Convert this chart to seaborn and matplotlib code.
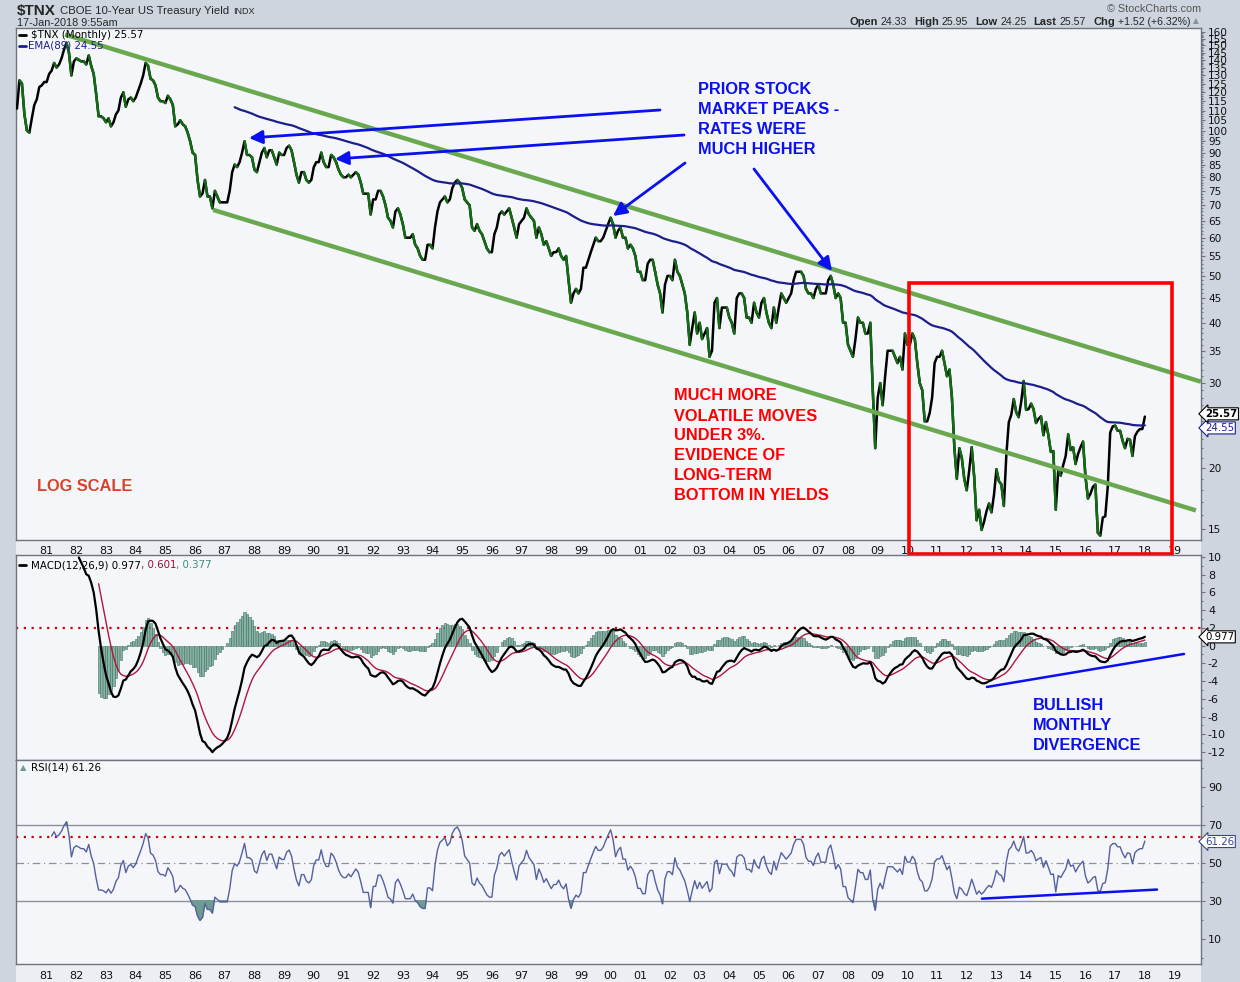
import numpy as np
import pandas as pd
import matplotlib
matplotlib.use("Agg")
import matplotlib.pyplot as plt
import seaborn as sns
from matplotlib.collections import LineCollection
from matplotlib.patches import Rectangle
from matplotlib.ticker import FixedLocator, NullFormatter

# ---------------- data (monthly closes of $TNX) ----------------
first_year = 1980
tnx_1980s = [111, 127, 125, 108, 100, 99, 106, 113, 116, 123, 124, 126,
             126, 131, 133, 138, 135, 137, 141, 147, 152, 145, 130, 139,
             141, 140, 139, 139, 137, 143, 136, 131, 119, 107, 107, 106,
             104, 106, 102, 104, 108, 110, 117, 120, 112, 116, 117, 115,
             117, 121, 125, 130, 138, 136, 128, 127, 124, 117, 115, 115,
             114, 118, 116, 113, 102, 103, 105, 103, 102, 99, 95, 90,
             89, 79, 73, 74, 79, 73, 73, 69, 75, 73, 71, 71,
             71, 71, 75, 82, 85, 84, 86, 90, 95, 89, 89, 88,
             83, 82, 86, 90, 92, 88, 91, 91, 88, 85, 90, 89,
             89, 92, 93, 91, 86, 81, 78, 82, 82, 79, 78, 79]
tnx_1990s = [84, 86, 86, 90, 86, 84, 84, 89, 88, 86, 83, 81,
             80, 80, 81, 80, 81, 82, 81, 78, 74, 74, 74, 67,
             72, 72, 75, 75, 73, 70, 66, 65, 63, 68, 69, 67,
             64, 60, 60, 60, 61, 58, 57, 55, 54, 54, 58, 58,
             57, 63, 68, 71, 72, 73, 71, 72, 76, 78, 79, 78,
             76, 72, 71, 70, 63, 62, 64, 62, 61, 59, 57, 56,
             56, 61, 63, 67, 68, 67, 68, 69, 66, 63, 60, 64,
             65, 66, 69, 67, 66, 65, 60, 63, 61, 58, 59, 57,
             55, 56, 56, 57, 55, 54, 55, 49, 44, 46, 47, 46,
             47, 52, 52, 54, 56, 58, 60, 59, 59, 60, 62, 64]
tnx_2000s = [66, 64, 60, 62, 63, 60, 60, 57, 58, 57, 55, 51,
             51, 49, 49, 53, 54, 54, 51, 48, 46, 42, 48, 50,
             50, 49, 54, 51, 50, 48, 46, 42, 36, 39, 42, 38,
             40, 37, 38, 39, 34, 35, 44, 45, 39, 43, 43, 43,
             41, 40, 38, 45, 46, 46, 45, 41, 41, 40, 44, 42,
             41, 44, 45, 42, 40, 39, 43, 40, 43, 46, 45, 44,
             45, 46, 49, 51, 51, 51, 50, 47, 46, 46, 45, 47,
             48, 46, 46, 46, 49, 50, 48, 45, 46, 45, 40, 40,
             36, 35, 34, 37, 41, 40, 40, 38, 38, 40, 29, 22,
             28, 30, 27, 31, 35, 35, 35, 34, 33, 34, 32, 38]
tnx_2010s = [36, 36, 38, 37, 33, 30, 29, 25, 25, 26, 28, 33,
             34, 34, 35, 33, 31, 32, 28, 22, 19, 22, 21, 19,
             18.0, 19.8, 22.1, 19.2, 15.6, 16.4, 14.9, 15.5, 16.3, 16.9, 16.2, 17.6,
             19.9, 18.8, 18.5, 16.7, 21.3, 24.9, 25.8, 27.8, 26.1, 25.5, 27.4, 30.3,
             26.4, 26.5, 27.2, 26.5, 24.8, 25.3, 25.6, 23.4, 24.9, 23.4, 21.6, 21.7,
             16.4, 19.9, 19.3, 20.3, 21.2, 23.5, 21.8, 22.1, 20.4, 21.4, 22.1, 22.7,
             19.2, 17.3, 17.7, 18.3, 18.5, 14.7, 14.5, 15.8, 15.9, 18.3, 23.7, 24.4,
             24.5, 23.9, 23.9, 22.8, 22.0, 23.0, 22.9, 21.2, 23.3, 23.8, 24.1, 24.1,
             25.57]

year_ticks = list(range(1981, 2020))
year_labels = ["%02d" % (y % 100) for y in year_ticks]
price_ticks = [15, 20] + list(range(30, 161, 5))
macd_ticks = list(range(-12, 11, 2))
rsi_ticks = [10, 30, 50, 70, 90]

header_title = "$TNX"
header_name = "CBOE 10-Year US Treasury Yield"
header_exch = "INDX"
header_date = "17-Jan-2018 9:55am"
quote_parts = [("Open", "24.33"), ("High", "25.95"), ("Low", "24.25"),
               ("Last", "25.57"), ("Chg", "+1.52 (+6.32%)")]
legend_price = "$TNX (Monthly) 25.57"
legend_ema = "EMA(89) 24.55"
legend_macd = ["MACD(12,26,9) 0.977", ", 0.601", ", 0.377"]
legend_rsi = "RSI(14) 61.26"
last_price, last_ema, last_macd, last_rsi = 25.57, 24.55, 0.977, 61.26

# ---------------- indicators ----------------
price = np.array(tnx_1980s + tnx_1990s + tnx_2000s + tnx_2010s, dtype=float)
t = first_year + np.arange(len(price)) / 12.0


def ema(x, n):
    x = np.asarray(x, float)
    out = np.full(len(x), np.nan)
    valid = np.where(~np.isnan(x))[0]
    s = valid[0]
    if len(valid) < n:
        return out
    out[s + n - 1] = np.mean(x[s:s + n])
    k = 2.0 / (n + 1)
    for i in range(s + n, len(x)):
        out[i] = x[i] * k + out[i - 1] * (1 - k)
    return out


ema89 = ema(price, 89)
macd = ema(price, 12) - ema(price, 26)
signal = ema(macd, 9)
hist = macd - signal

d = np.diff(price)
gain = np.clip(d, 0, None)
loss = np.clip(-d, 0, None)
rsi = np.full(len(price), np.nan)
ag, al = gain[:14].mean(), loss[:14].mean()
rsi[14] = 100 - 100 / (1 + ag / al)
for i in range(15, len(price)):
    ag = (ag * 13 + gain[i - 1]) / 14
    al = (al * 13 + loss[i - 1]) / 14
    rsi[i] = 100 - 100 / (1 + ag / al) if al > 0 else 100

df = pd.DataFrame({"t": t, "price": price, "ema": ema89, "macd": macd,
                   "signal": signal, "hist": hist, "rsi": rsi})

# ---------------- style ----------------
sns.set_theme(style="white")
plt.rcParams["font.family"] = ["DejaVu Sans"]
plt.rcParams["axes.unicode_minus"] = False
ARIAL = ["Liberation Sans", "DejaVu Sans"]
NARROW = ["Liberation Sans Narrow", "Liberation Sans", "DejaVu Sans"]

W, H = 1240, 982
fig = plt.figure(figsize=(W / 100, H / 100), dpi=100)
fig.patch.set_facecolor("#cfd5df")


def rect(x0, y0, x1, y1):
    return [x0 / W, 1 - y1 / H, (x1 - x0) / W, (y1 - y0) / H]


def fp(x, y):
    return (x / W, 1 - y / H)


for (y0, y1) in [(540, 555), (964, 982)]:
    fig.add_artist(Rectangle(fp(16, y1), (1201 - 16) / W, (y1 - y0) / H,
                             transform=fig.transFigure, fc="#eceef3", ec="none", zorder=0))

ax1 = fig.add_axes(rect(16, 28, 1201, 540))
ax2 = fig.add_axes(rect(16, 555, 1201, 760))
ax3 = fig.add_axes(rect(16, 760, 1201, 964))

PXY = 29.68
xmin = first_year + (16 - 17) / PXY
xmax = first_year + (1201 - 17) / PXY
FRAME = "#6f737d"
for ax in (ax1, ax2, ax3):
    ax.set_facecolor("#f5f6fa")
    ax.set_xlim(xmin, xmax)
    for s in ax.spines.values():
        s.set_color(FRAME)
        s.set_linewidth(1.0)
    ax.yaxis.tick_right()
    ax.tick_params(axis="both", which="both", direction="out", color=FRAME,
                   labelcolor="#111111", labelsize=8, length=3, width=0.8, pad=2)
    ax.set_xticks(year_ticks)

# ---------------- price panel ----------------
GREEN_DN = "#136b13"
sns.lineplot(data=df, x="t", y="price", ax=ax1, color="black", lw=1.8, zorder=3)
pts = np.column_stack([t, price])
segs = np.stack([pts[:-1], pts[1:]], axis=1)
dn = np.diff(price) < 0
lc = LineCollection(segs[dn], colors=GREEN_DN, linewidths=1.8, capstyle="round",
                    joinstyle="round", zorder=4)
ax1.add_collection(lc)
sns.lineplot(data=df, x="t", y="ema", ax=ax1, color="#1c1f8a", lw=1.6, zorder=5)
ax1.set_yscale("log")
ax1.set_ylim(14.2, 163)
ax1.set_xlim(xmin, xmax)
ax1.yaxis.set_major_locator(FixedLocator(price_ticks))
ax1.set_yticklabels([str(v) for v in price_ticks], fontsize=7.6)
ax1.yaxis.set_minor_locator(FixedLocator([v for v in range(14, 161) if v not in price_ticks]))
ax1.yaxis.set_minor_formatter(NullFormatter())
ax1.tick_params(axis="y", which="minor", length=1.5)
ax1.set_xticklabels(year_labels)
ax1.tick_params(axis="x", pad=1)
ax1.set_xlabel("")
ax1.set_ylabel("")

TL = "#6aa84f"
ax1.plot([1981.62, 2019.89], [158, 30.2], color=TL, lw=3.2, zorder=6, solid_capstyle="butt")
ax1.plot([1986.61, 2019.72], [68.5, 16.35], color=TL, lw=3.2, zorder=6, solid_capstyle="butt")

ax1.add_patch(Rectangle((2010.05, 13.3), 8.86, 35.0, fill=False, ec="#ff0000", lw=2.6,
                        clip_on=False, zorder=8))

BLUE = "#0a10ee"
arrows = [((660, 110), (249, 138)), ((684, 135), (335, 159)),
          ((685, 163), (613, 216)), ((754, 169), (832, 271))]
for (x0, y0), (x1, y1) in arrows:
    ax1.annotate("", xy=(x1, H - y1), xycoords="figure pixels",
                 xytext=(x0, H - y0), textcoords="figure pixels",
                 arrowprops=dict(arrowstyle="-|>", color=BLUE, lw=2.0,
                                 mutation_scale=20, shrinkA=0, shrinkB=0), zorder=9)

for i, s in enumerate(["PRIOR STOCK", "MARKET PEAKS -", "RATES WERE", "MUCH HIGHER"]):
    fig.text(*fp(698, 89 + 20 * i), s, color=BLUE, fontsize=11.8, fontweight="bold",
             family=ARIAL, va="center", ha="left", zorder=10)
for i, s in enumerate(["MUCH MORE", "VOLATILE MOVES", "UNDER 3%.", "EVIDENCE OF",
                       "LONG-TERM", "BOTTOM IN YIELDS"]):
    fig.text(*fp(674, 396 + 20 * i), s, color="#ff0000", fontsize=11.8, fontweight="bold",
             family=ARIAL, va="center", ha="left", zorder=10)
fig.text(*fp(37, 487), "LOG SCALE", color="#d8432a", fontsize=11.8, fontweight="bold",
         family=ARIAL, va="center", ha="left")

fig.add_artist(plt.Line2D([19 / W, 26 / W], [1 - 35 / H] * 2, color="black", lw=2))
fig.text(*fp(31, 35), legend_price, fontsize=7.4, color="black", va="center")
fig.add_artist(plt.Line2D([19 / W, 26 / W], [1 - 46 / H] * 2, color="#1c1f8a", lw=2))
fig.text(*fp(28, 46), legend_ema, fontsize=7.4, color="#1c1f8a", va="center")

# ---------------- MACD panel ----------------
ax2.bar(df["t"], df["hist"], width=1 / 12 * 0.85, color="#86b3a3", edgecolor="#3f6f61",
        linewidth=0.4, zorder=2)
sns.lineplot(data=df, x="t", y="signal", ax=ax2, color="#b0163e", lw=1.0, zorder=3)
sns.lineplot(data=df, x="t", y="macd", ax=ax2, color="black", lw=1.6, zorder=4)
ax2.axhline(2.0, color="#cc0000", lw=1.6, ls=(0, (1, 2.5)), zorder=1)
ax2.set_ylim(-12.9, 10.2)
ax2.set_xlim(xmin, xmax)
ax2.yaxis.set_major_locator(FixedLocator(macd_ticks))
ax2.set_yticklabels([str(v) for v in macd_ticks])
ax2.yaxis.set_minor_locator(FixedLocator(list(range(-13, 11, 2))))
ax2.tick_params(axis="y", which="minor", length=1.5)
ax2.tick_params(axis="x", length=0, labelbottom=False)
ax2.set_xlabel("")
ax2.set_ylabel("")
ax2.plot([2012.68, 2019.32], [-4.67, -0.95], color=BLUE, lw=1.8, zorder=6)
for i, s in enumerate(["BULLISH", "MONTHLY", "DIVERGENCE"]):
    fig.text(*fp(1033, 705 + 20 * i), s, color=BLUE, fontsize=11.8, fontweight="bold",
             family=ARIAL, va="center", ha="left", zorder=10)

fig.canvas.draw()
r = fig.canvas.get_renderer()

fig.add_artist(plt.Line2D([19 / W, 26 / W], [1 - 565 / H] * 2, color="black", lw=2))
tx = fig.text(*fp(31, 565), legend_macd[0], fontsize=7.4, color="black", va="center")
bb = tx.get_window_extent(r)
tx2 = fig.text(bb.x1 / W, 1 - 565 / H, legend_macd[1], fontsize=7.4, color="#9b0d35", va="center")
bb2 = tx2.get_window_extent(r)
fig.text(bb2.x1 / W, 1 - 565 / H, legend_macd[2], fontsize=7.4, color="#3f8f7c", va="center")

# ---------------- RSI panel ----------------
sns.lineplot(data=df, x="t", y="rsi", ax=ax3, color="#56609e", lw=1.0, zorder=4)
rv = df["rsi"].to_numpy()
ax3.fill_between(t, rv, 30, where=rv < 30, interpolate=True, color="#6f9c90", zorder=3)
ax3.fill_between(t, rv, 70, where=rv > 70, interpolate=True, color="#6f9c90", zorder=3)
ax3.axhline(70, color="#8c909a", lw=1.0, zorder=1)
ax3.axhline(30, color="#8c909a", lw=1.0, zorder=1)
ax3.axhline(50, color="#8c909a", lw=0.9, ls=(0, (6, 3, 1, 3)), zorder=1)
ax3.axhline(63.5, color="#cc0000", lw=1.6, ls=(0, (1, 2.5)), zorder=2)
ax3.set_ylim(-3.4, 104.3)
ax3.set_xlim(xmin, xmax)
ax3.yaxis.set_major_locator(FixedLocator(rsi_ticks))
ax3.set_yticklabels([str(v) for v in rsi_ticks])
ax3.yaxis.set_minor_locator(FixedLocator([0, 20, 40, 60, 80, 100]))
ax3.tick_params(axis="y", which="minor", length=1.5)
ax3.set_xticklabels(year_labels)
ax3.set_xlabel("")
ax3.set_ylabel("")
ax3.plot([2012.51, 2018.41], [31.1, 35.9], color=BLUE, lw=1.8, zorder=6)
fig.text(*fp(20, 768), "\u25b2", fontsize=6, color="#6f9c90", va="center")
fig.text(*fp(31, 768), legend_rsi, fontsize=7.4, color="black", va="center")


# ---------------- value boxes ----------------
def value_box(ax, val, text, tc, ec, bold=False, dy=0):
    ax.annotate(text, xy=(1.0, val), xycoords=("axes fraction", "data"),
                xytext=(3, dy), textcoords="offset points", ha="left", va="center",
                fontsize=7.4, color=tc, fontweight="bold" if bold else "normal",
                bbox=dict(boxstyle="larrow,pad=0.1", fc="white", ec=ec, lw=0.8),
                annotation_clip=False, zorder=20)


value_box(ax1, last_ema, "24.55", "#1c1f8a", "#1c1f8a", dy=-2)
value_box(ax1, last_price, "25.57", "black", "black", bold=True, dy=2)
value_box(ax2, last_macd, "0.977", "black", "black")
value_box(ax3, last_rsi, "61.26", "#3a4590", "#3a4590")

# ---------------- header ----------------
a = fig.text(*fp(17, 11), header_title, fontsize=11, fontweight="bold", family=NARROW, va="center")
x = a.get_window_extent(r).x1 + 4
b = fig.text(x / W, 1 - 11 / H, header_name, fontsize=8.2, family=ARIAL, va="center")
x = b.get_window_extent(r).x1 + 4
fig.text(x / W, 1 - 12 / H, header_exch, fontsize=6.5, family=ARIAL, va="center")
fig.text(*fp(17, 23), header_date, fontsize=7.8, family=ARIAL, va="center")
fig.text(*fp(1201, 9), "\u00a9 StockCharts.com", fontsize=7.8, family=ARIAL,
         color="#555555", va="center", ha="right")
x = 849
for lab, val in quote_parts:
    a = fig.text(x / W, 1 - 22 / H, lab, fontsize=8, fontweight="bold", family=NARROW, va="center")
    x = a.get_window_extent(r).x1 + 3
    b = fig.text(x / W, 1 - 22 / H, val, fontsize=7.6, family=ARIAL, va="center")
    x = b.get_window_extent(r).x1 + 7
fig.text((x - 4) / W, 1 - 21 / H, "\u25b2", fontsize=5.5, color="#8a8f99", va="center")

fig.savefig("out.png", dpi=100, facecolor=fig.get_facecolor())
